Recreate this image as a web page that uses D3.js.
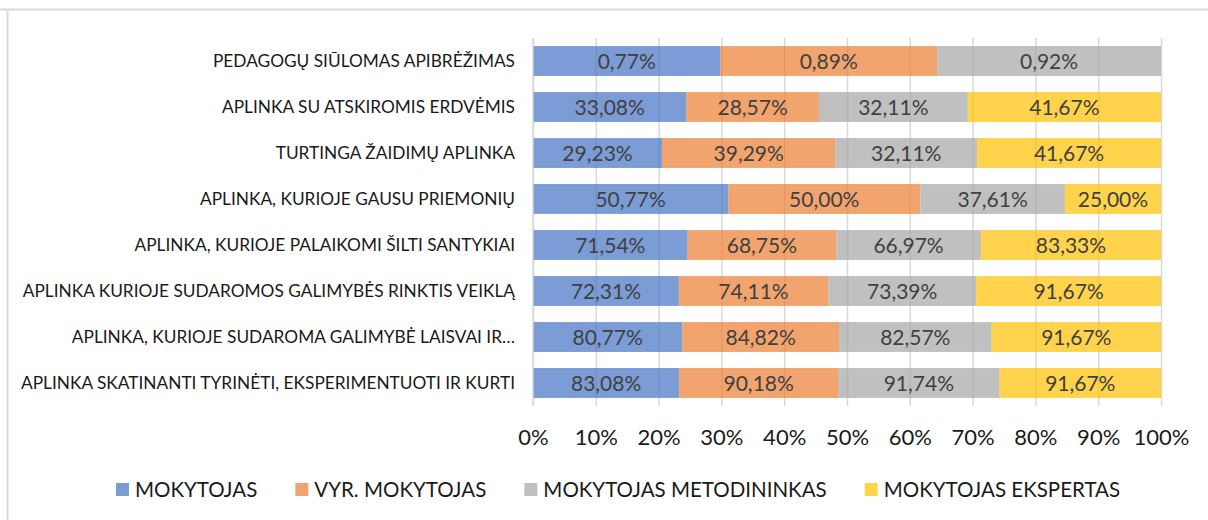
<!DOCTYPE html>
<html lang="lt">
<head>
<meta charset="utf-8">
<script src="https://d3js.org/d3.v7.min.js"></script>
<title>Stacked bar chart</title>
<style>
  body { margin: 0; background: #fff; }
  svg { font-family: Lato, "Open Sans", sans-serif; }
</style>
</head>
<body>
<svg width="1208" height="520"></svg>
<script>
// categories, top to bottom
var categories = [
  "PEDAGOGŲ SIŪLOMAS APIBRĖŽIMAS",
  "APLINKA SU ATSKIROMIS ERDVĖMIS",
  "TURTINGA ŽAIDIMŲ APLINKA",
  "APLINKA, KURIOJE GAUSU PRIEMONIŲ",
  "APLINKA, KURIOJE PALAIKOMI ŠILTI SANTYKIAI",
  "APLINKA KURIOJE SUDAROMOS GALIMYBĖS RINKTIS VEIKLĄ",
  "APLINKA, KURIOJE SUDAROMA GALIMYBĖ LAISVAI IR…",
  "APLINKA SKATINANTI TYRINĖTI, EKSPERIMENTUOTI IR KURTI"
];

var seriesNames = ["MOKYTOJAS", "VYR. MOKYTOJAS", "MOKYTOJAS METODININKAS", "MOKYTOJAS EKSPERTAS"];

var mokytojas  = [0.77, 33.08, 29.23, 50.77, 71.54, 72.31, 80.77, 83.08];
var vyrMokyt   = [0.89, 28.57, 39.29, 50.00, 68.75, 74.11, 84.82, 90.18];
var metodinink = [0.92, 32.11, 32.11, 37.61, 66.97, 73.39, 82.57, 91.74];
var ekspertas  = [0,    41.67, 41.67, 25.00, 83.33, 91.67, 91.67, 91.67];

var tickValues = [0, 0.1, 0.2, 0.3, 0.4, 0.5, 0.6, 0.7, 0.8, 0.9, 1];

var colors = ["#4472c4", "#ed7d31", "#a5a5a5", "#ffc000"];

var seriesValues = [mokytojas, vyrMokyt, metodinink, ekspertas];
var rows = categories.map(function(c, i) {
  var r = { name: c };
  seriesNames.forEach(function(s, j) { r[s] = seriesValues[j][i]; });
  return r;
});

var svg = d3.select("svg");

// chart frame
svg.append("line").attr("x1", 0).attr("x2", 1208).attr("y1", 9.5).attr("y2", 9.5)
  .attr("stroke", "#d9d9d9").attr("stroke-width", 2);
svg.append("line").attr("x1", 7.5).attr("x2", 7.5).attr("y1", 9).attr("y2", 520)
  .attr("stroke", "#d9d9d9").attr("stroke-width", 2);

var x = d3.scaleLinear().domain([0, 1]).range([533, 1161]);
var y = d3.scaleBand().domain(categories).range([38, 406]).paddingInner(0.35).paddingOuter(0.175);

var stack = d3.stack().keys(seriesNames).offset(d3.stackOffsetExpand);
var stacked = stack(rows);

// gridlines
svg.append("g")
  .selectAll("line")
  .data(tickValues)
  .enter().append("line")
    .attr("x1", function(d) { return x(d) + 0.5; })
    .attr("x2", function(d) { return x(d) + 0.5; })
    .attr("y1", 38)
    .attr("y2", 406)
    .attr("stroke", "#d9d9d9")
    .attr("stroke-width", 1.5);

var fmt = function(v) { return d3.format(".2f")(v).replace(".", ",") + "%"; };

var serie = svg.selectAll(".serie")
  .data(stacked)
  .enter().append("g")
    .attr("class", "serie")
    .attr("fill", function(d, i) { return colors[i]; })
    .attr("fill-opacity", 0.7);

serie.selectAll("rect")
  .data(function(d) { return d; })
  .enter().append("rect")
    .attr("x", function(d) { return x(d[0]); })
    .attr("y", function(d) { return y(d.data.name); })
    .attr("width", function(d) { return x(d[1]) - x(d[0]); })
    .attr("height", y.bandwidth());

// value labels
stacked.forEach(function(s) {
  svg.append("g").selectAll("text")
    .data(s.filter(function(d) { return d.data[s.key] > 0; }))
    .enter().append("text")
      .attr("x", function(d) { return (x(d[0]) + x(d[1])) / 2; })
      .attr("y", function(d) { return y(d.data.name) + y.bandwidth() / 2; })
      .attr("dy", "0.36em")
      .attr("text-anchor", "middle")
      .attr("fill", "#404040")
      .style("font-size", "21px")
      .text(function(d) { return fmt(d.data[s.key]); });
});

// category axis
var yAxis = svg.append("g")
  .attr("transform", "translate(533,0)")
  .call(d3.axisLeft(y).tickSize(0).tickPadding(18));
yAxis.select(".domain").attr("stroke", "#d9d9d9").attr("stroke-width", 1.5)
  .attr("d", "M0,38V406");
yAxis.selectAll("text").style("font-size", "17.3px").attr("fill", "#1a1a1a")
  .style("font-family", "Lato, 'Open Sans', sans-serif");

// value axis
var xAxis = svg.append("g")
  .attr("transform", "translate(0,406)")
  .call(d3.axisBottom(x).tickValues(tickValues).tickFormat(d3.format(".0%")).tickSize(0).tickPadding(23));
xAxis.select(".domain").remove();
xAxis.selectAll("text").style("font-size", "22px").attr("fill", "#1a1a1a")
  .style("font-family", "Lato, 'Open Sans', sans-serif");

// legend
var legend = svg.append("g").attr("transform", "translate(0,490)");
var cursor = 0;
seriesNames.forEach(function(name, i) {
  var item = legend.append("g").attr("transform", "translate(" + cursor + ",0)");
  item.append("rect").attr("x", 0).attr("y", -7).attr("width", 13).attr("height", 13)
    .attr("fill", colors[i]).attr("fill-opacity", 0.7);
  var t = item.append("text").attr("x", 19).attr("y", 0).attr("dy", "0.35em")
    .attr("fill", "#1a1a1a").style("font-size", "20.5px").text(name);
  cursor += 19 + t.node().getComputedTextLength() + 38;
});
var legendWidth = cursor - 38;
legend.attr("transform", "translate(" + (618 - legendWidth / 2) + ",490)");
</script>
</body>
</html>
